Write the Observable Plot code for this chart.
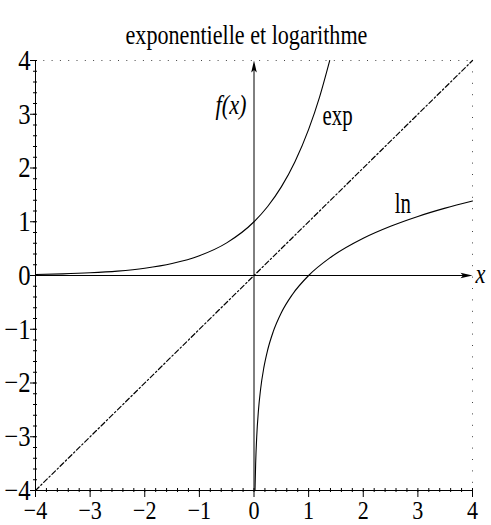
<!DOCTYPE html>
<html>
<head>
<meta charset="utf-8">
<script src="https://cdn.jsdelivr.net/npm/d3@7"></script>
<script src="https://cdn.jsdelivr.net/npm/@observablehq/plot@0.6"></script>
<style>
  body { margin: 0; background: #fff; }
  #chart svg, #chart svg text { font-family: 'Liberation Serif', 'Times New Roman', serif !important; }
</style>
</head>
<body>
<div id="chart"></div>
<script>
// Title and names
const titleText = "exponentielle et logarithme";
const curveNames = ["exp", "ln"];
const axisNames = ["x", "f(x)"];

// Axis range and ticks
const axisRange = [-4, 4];
const majorTicks = [-4, -3, -2, -1, 0, 1, 2, 3, 4];
const minorTicks = [-4, -3.8, -3.6, -3.4, -3.2, -3, -2.8, -2.6, -2.4, -2.2, -2, -1.8, -1.6, -1.4, -1.2, -1,
  -0.8, -0.6, -0.4, -0.2, 0, 0.2, 0.4, 0.6, 0.8, 1, 1.2, 1.4, 1.6, 1.8, 2, 2.2, 2.4, 2.6, 2.8, 3,
  3.2, 3.4, 3.6, 3.8, 4];

// Sampled points of y = exp(x)
const expX = [-4, -3.5, -3, -2.5, -2, -1.5, -1, -0.5, 0, 0.25, 0.5, 0.75, 1, 1.2, 1.386];
const expY = [0.018, 0.030, 0.050, 0.082, 0.135, 0.223, 0.368, 0.607, 1, 1.284, 1.649, 2.117, 2.718, 3.320, 4];

// Sampled points of y = ln(x)
const lnX = [0.0183, 0.03, 0.05, 0.08, 0.12, 0.18, 0.25, 0.35, 0.5, 0.7, 1, 1.4, 2, 2.5, 3, 3.5, 4];
const lnY = [-4, -3.507, -2.996, -2.526, -2.120, -1.715, -1.386, -1.050, -0.693, -0.357, 0, 0.336, 0.693, 0.916, 1.099, 1.253, 1.386];

// Diagonal y = x
const diagX = [-4, 4];
const diagY = [-4, 4];

const expPts = expX.map((x, i) => ({x, y: expY[i]}));
const lnPts = lnX.map((x, i) => ({x, y: lnY[i]}));
const diagPts = diagX.map((x, i) => ({x, y: diagY[i]}));

const [lo, hi] = axisRange;
const fmt = d => d < 0 ? "\u2212" + (-d) : String(d);
const serif = "'Liberation Serif', 'Times New Roman', serif";

// Slender filled arrowhead, tip at the origin, pointing up
const arrowHead = {
  draw(context) {
    context.moveTo(0, 0);
    context.lineTo(2.8, 12);
    context.lineTo(0, 9.5);
    context.lineTo(-2.8, 12);
    context.closePath();
  }
};

const plot = Plot.plot({
  width: 491,
  height: 525,
  marginLeft: 35,
  marginRight: 19,
  marginTop: 60,
  marginBottom: 35,
  x: {domain: axisRange},
  y: {domain: axisRange},
  style: {fontFamily: serif, fontSize: "29px", color: "#000", background: "#fff"},
  marks: [
    // frame: solid left/bottom, dotted top/right
    Plot.ruleX([lo], {stroke: "#000"}),
    Plot.ruleY([lo], {stroke: "#000"}),
    Plot.ruleY([hi], {stroke: "#444", strokeDasharray: "1,7.3"}),
    Plot.ruleX([hi], {stroke: "#444", strokeDasharray: "1,10.4"}),

    // major ticks and labels
    Plot.axisX(majorTicks, {anchor: "bottom", tickSize: 7, tickPadding: 3, tickFormat: fmt, fontSize: 26, fontFamily: serif, fontVariant: "normal", label: null}),
    Plot.axisY(majorTicks, {anchor: "left", tickSize: 5, tickPadding: 0, tickFormat: fmt, fontSize: 29, fontFamily: serif, fontVariant: "normal", label: null}),
    // minor ticks straddling the frame lines
    Plot.axisX(minorTicks, {anchor: "bottom", tickSize: 4, dy: -2, fill: "none", label: null}),
    Plot.axisY(minorTicks, {anchor: "left", tickSize: 4, dx: 2, fill: "none", label: null}),

    // central axes with arrowheads
    Plot.ruleY([0], {x1: lo, x2: hi - 0.15, stroke: "#000"}),
    Plot.ruleX([0], {y1: lo, y2: hi - 0.15, stroke: "#000"}),
    Plot.dot([{x: hi, y: 0, a: 90}, {x: 0, y: hi, a: 0}], {x: "x", y: "y", rotate: "a", symbol: arrowHead, fill: "#000", stroke: "none"}),

    // curves
    Plot.line(diagPts, {x: "x", y: "y", stroke: "#000", strokeWidth: 1.2, strokeDasharray: "5,2.5,1.5,2.5"}),
    Plot.line(expPts, {x: "x", y: "y", stroke: "#000", strokeWidth: 1.1, curve: "monotone-x"}),
    Plot.line(lnPts, {x: "x", y: "y", stroke: "#000", strokeWidth: 1.1, curve: "monotone-x"}),

    // curve names, placed next to a point of each curve
    Plot.text([expPts[13]], {x: "x", y: "y", text: () => curveNames[0], dx: 18, dy: 19, fontSize: 29, fontFamily: serif, fill: "#000"}),
    Plot.text([lnPts[14]], {x: "x", y: "y", text: () => curveNames[1], dx: -15, dy: -13, fontSize: 29, fontFamily: serif, fill: "#000"}),

    // axis names
    Plot.text([axisNames[0]], {frameAnchor: "right", dx: 13, dy: -1.5, text: d => d, fontSize: 28, fontFamily: serif, fontStyle: "italic", fill: "#000"}),
    Plot.text([axisNames[1]], {frameAnchor: "top", dx: -23, dy: 34, text: d => d, fontSize: 28, fontFamily: serif, fontStyle: "italic", fill: "#000"}),

    // title
    Plot.text([titleText], {frameAnchor: "top", dx: -7.5, dy: -36, text: d => d, fontSize: 28, fontFamily: serif, fill: "#000"})
  ]
});

// narrower letterforms: each text keeps its anchor and is compressed horizontally
function squeezeOf(s) {
  if (s === titleText) return 0.79;
  if (curveNames.includes(s)) return 0.72;
  if (axisNames.includes(s)) return 0.8;
  return 0.85; // tick labels
}
plot.querySelectorAll("text").forEach(t => {
  const s = squeezeOf(t.textContent);
  t.setAttribute("transform", (t.getAttribute("transform") || "") + ` scale(${s},1)`);
});

document.getElementById("chart").appendChild(plot);
</script>
</body>
</html>
